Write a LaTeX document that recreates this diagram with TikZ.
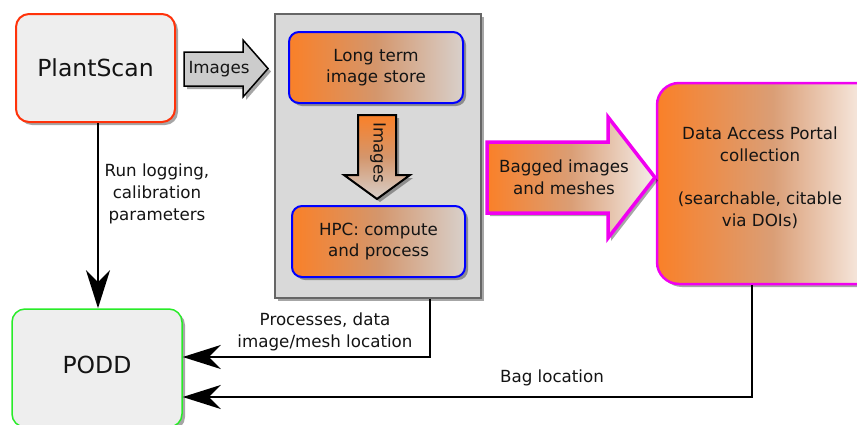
\documentclass[tikz,border=0pt]{standalone}
\usepackage{fontspec}
\setmainfont{DejaVu Sans}
\usetikzlibrary{shadows,arrows.meta}
\definecolor{orng}{RGB}{250,128,40}
\definecolor{tan}{RGB}{218,158,118}
\definecolor{tandark}{RGB}{212,150,108}
\definecolor{boxgray}{RGB}{238,238,238}
\definecolor{contgray}{RGB}{217,217,217}
\definecolor{contline}{RGB}{102,102,102}
\definecolor{psred}{RGB}{255,50,10}
\definecolor{poddgreen}{RGB}{40,235,40}
\definecolor{mag}{RGB}{240,0,240}
\definecolor{txtc}{RGB}{20,20,20}
\definecolor{fadegray}{RGB}{216,208,203}
\definecolor{fadewhite}{RGB}{244,238,234}
\tikzset{
  txt/.style={font=\fontsize{16.7}{21.7}\selectfont, text=txtc, align=center},
  bigtxt/.style={font=\fontsize{23.5}{28}\selectfont, text=txtc},
  shd/.style={drop shadow={shadow xshift=3pt, shadow yshift=-3pt, opacity=0.35, fill=black}},
  psbox/.style={shd, draw=psred, line width=2pt, fill=boxgray, rounded corners=13pt,
    minimum width=159pt, minimum height=108pt, inner sep=0pt, bigtxt},
  poddbox/.style={shd, draw=poddgreen, line width=1.5pt, fill=boxgray, rounded corners=13pt,
    minimum width=170pt, minimum height=118pt, inner sep=0pt, bigtxt},
  contbox/.style={shd, draw=contline, line width=2.5pt, fill=contgray,
    minimum width=206pt, minimum height=284pt, inner sep=0pt},
  innerbox/.style={shd, draw=blue, line width=2pt, left color=orng, right color=fadegray, middle color=tandark,
    rounded corners=10pt, minimum width=174pt, minimum height=71pt, inner sep=0pt, txt},
  portalbox/.style={shd, draw=mag, line width=2.5pt, left color=orng, right color=white, middle color=tan,
    rounded corners=22pt, minimum width=232pt, minimum height=201pt, inner sep=0pt},
  graybarrow/.style={shd, draw=black, line width=1.5pt, fill=black!20},
  vbarrow/.style={shd, draw=black, line width=2pt, top color=orng, bottom color=fadegray, middle color=tandark},
  bagarrow/.style={shd, draw=mag, line width=3.5pt, left color=orng, right color=fadewhite, middle color=tan},
  conn/.style={draw=black, line width=2pt, -{Stealth[length=38pt,width=24pt,inset=12pt]}},
}
\begin{document}
\begin{tikzpicture}[x=1pt,y=-1pt]
\useasboundingbox (0,0) rectangle (857,424);
\clip (0,0) rectangle (857,424);

% main boxes
\node[psbox] (ps) at (95.5,68) {PlantScan};
\node[poddbox] (podd) at (97,368) {};
\node[bigtxt] (poddlbl) at (97,365) {PODD};
\node[contbox] (cont) at (378,156) {};
\node[innerbox] (lts) at (376,67.5) {Long term\\image store};
\node[innerbox, minimum width=173pt] (hpc) at (378.5,241.5) {HPC: compute\\and process};
\node[portalbox] (dap) at (773,183.5) {};
\node[txt] (daplbl) at (760,178) {Data Access Portal\\collection\\[21.7pt](searchable, citable\\via DOIs)};

% block arrows
\path[graybarrow] (184,52) -- (243,52) -- (243,40) -- (268,68.5) -- (243,97) -- (243,86) -- (184,86) -- cycle;
\node[txt] (imgh) at (219,69) {Images};

\path[vbarrow] (358,115) -- (396,115) -- (396,175) -- (410,175) -- (377,199) -- (344,175) -- (358,175) -- cycle;
\node[txt, rotate=-90] (imgv) at (378,153) {Images};

\path[bagarrow] (487,142) -- (608,142) -- (608,117) -- (655,177.5) -- (608,238) -- (608,213) -- (487,213) -- cycle;
\node[txt] (bag) at (564,177.5) {Bagged images\\and meshes};

% connectors
\draw[conn] ([xshift=2.5pt]ps.south) -- ([xshift=2.5pt]ps.south |- podd.north);
\node[txt] (runlbl) at (157,194) {Run logging,\\calibration\\parameters};

\draw[conn] ([xshift=52pt]cont.south) |- ([yshift=11pt]podd.east);
\node[txt] (proclbl) at (325,332) {Processes, data\\image/mesh location};

\draw[conn] ([xshift=-21pt]dap.south) |- ([yshift=-29pt]podd.east);
\node[txt] (baglbl) at (552,378) {Bag location};
\end{tikzpicture}
\end{document}
